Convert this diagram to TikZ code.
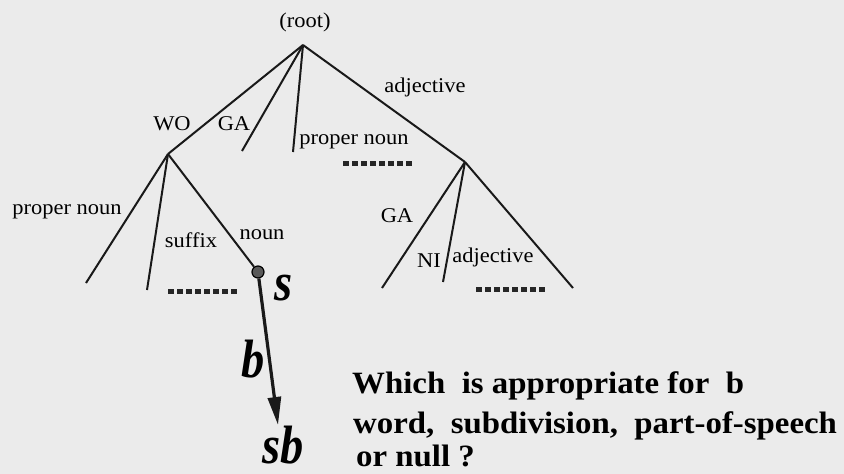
\documentclass[tikz,border=0pt]{standalone}
\usepackage{fontspec}
\usepackage{graphicx}
\setmainfont{Liberation Serif}
\usetikzlibrary{arrows.meta}
\newcommand{\tlbl}[1]{\scalebox{1.07}[1]{\fontsize{21}{22}\selectfont #1}}
\newcommand{\biglet}[1]{\scalebox{0.86}[1]{\fontsize{54}{54}\selectfont\bfseries\itshape #1}}
\newcommand{\qline}[1]{\scalebox{1.06}[1]{\fontsize{31}{34}\selectfont\bfseries #1}}
\begin{document}
\begin{tikzpicture}[x=1pt,y=-1pt,
  edge/.style={line width=2pt, black!90},
  lbl/.style={inner sep=0pt},
  dotrow/.style={line width=5pt, black!85, dash pattern=on 6pt off 3pt},
  bigarrow/.style={line width=3.2pt, black!90, -{Triangle[length=28pt,width=13pt]}},
]
\fill[black!8] (0,0) rectangle (844,474);
\useasboundingbox (0,0) rectangle (844,474);
% tree points
\coordinate (root) at (303,45);
\coordinate (wo) at (168,154);
\coordinate (ga1) at (242,151);
\coordinate (pn1) at (293,152);
\coordinate (adj) at (465,162);
\coordinate (wa) at (86,283);
\coordinate (wb) at (147,290);
\coordinate (aa) at (382,288);
\coordinate (ab) at (443,282);
\coordinate (ac) at (573,288);
\coordinate (sbend) at (278,425);
\node[circle, draw=black, line width=1.2pt, fill=black!65, minimum size=12pt, inner sep=0pt] (s) at (258,272) {};
% edges
\draw[edge] (root) -- (wo);
\draw[edge] (root) -- (ga1);
\draw[edge] (root) -- (pn1);
\draw[edge] (root) -- (adj);
\draw[edge] (wo) -- (wa);
\draw[edge] (wo) -- (wb);
\draw[edge] (wo) -- (s);
\draw[edge] (adj) -- (aa);
\draw[edge] (adj) -- (ab);
\draw[edge] (adj) -- (ac);
\draw[bigarrow] (s) -- (sbend);
% dot rows
\coordinate (d1a) at (343,163); \coordinate (d1b) at (413,163);
\coordinate (d2a) at (168,291); \coordinate (d2b) at (238,291);
\coordinate (d3a) at (476,289); \coordinate (d3b) at (547,289);
\draw[dotrow] (d1a) -- (d1b);
\draw[dotrow] (d2a) -- (d2b);
\draw[dotrow] (d3a) -- (d3b);
% labels
\node[lbl] (lroot) at (305,22) {\tlbl{(root)}};
\node[lbl] (lwo) at (172,124) {\tlbl{WO}};
\node[lbl] (lga1) at (234,124) {\tlbl{GA}};
\node[lbl] (lpn1) at (354,142) {\tlbl{proper noun}};
\node[lbl] (ladj1) at (425,87) {\tlbl{adjective}};
\node[lbl] (lpn2) at (67,212) {\tlbl{proper noun}};
\node[lbl] (lsuf) at (191,240) {\tlbl{suffix}};
\node[lbl] (lnoun) at (262,235) {\tlbl{noun}};
\node[lbl] (lga2) at (397,216) {\tlbl{GA}};
\node[lbl] (lni) at (429,261) {\tlbl{NI}};
\node[lbl] (ladj2) at (493,257) {\tlbl{adjective}};
% big letters
\node[lbl, anchor=base] (ls) at (284,300) {\biglet{s}};
\node[lbl, anchor=base] (lb) at (253,377) {\biglet{b}};
\node[lbl, anchor=base] (lsb) at (283,463) {\biglet{sb}};
% question
\node[lbl, anchor=base west] (q1) at (352,393) {\qline{Which\ \ is appropriate for\ \ b}};
\node[lbl, anchor=base west] (q2) at (353,433) {\qline{word,\ \ subdivision,\ \ part-of-speech}};
\node[lbl, anchor=base west] (q3) at (356,466) {\qline{or null ?}};
\end{tikzpicture}
\end{document}
